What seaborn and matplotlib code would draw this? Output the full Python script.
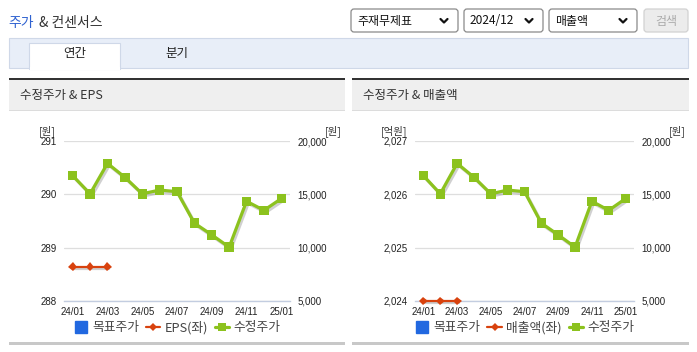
import numpy as np
import pandas as pd
import matplotlib
matplotlib.use("Agg")
import matplotlib.pyplot as plt
import matplotlib.patheffects as pe
from matplotlib.patches import Rectangle, FancyBboxPatch
from matplotlib.lines import Line2D
from matplotlib import font_manager as fm
import seaborn as sns

# data
months = ["24/01", "24/02", "24/03", "24/04", "24/05", "24/06", "24/07",
          "24/08", "24/09", "24/10", "24/11", "24/12", "25/01"]
price = [16750, 15050, 17900, 16600, 15050, 15400, 15250,
         12300, 11200, 10050, 14350, 13500, 14600]
eps = [288.64, 288.64, 288.64]
sales = [2024, 2024, 2024]

eps_ticks = [288, 289, 290, 291]
sales_ticks = [2024, 2025, 2026, 2027]
price_ticks = [5000, 10000, 15000, 20000]

W, H = 697, 352
GREEN = "#8cc21e"
RED = "#d8420e"
BLUE = "#2168e0"
AXC = "#c3cde0"

sns.set_style("white")
plt.rcParams["font.family"] = ["Noto Sans CJK KR", "DejaVu Sans"]
names = {f.name for f in fm.fontManager.ttflist}
num_font = "Liberation Sans Narrow" if "Liberation Sans Narrow" in names else "Liberation Sans"

fig = plt.figure(figsize=(W / 100, H / 100), dpi=100)
bg = fig.add_axes([0, 0, 1, 1])
bg.set_xlim(0, W)
bg.set_ylim(H, 0)
bg.axis("off")


def rect(x0, y0, x1, y1, fc, ec="none", lw=1.0, z=1):
    bg.add_patch(Rectangle((x0, y0), x1 - x0, y1 - y0, facecolor=fc, edgecolor=ec, lw=lw, zorder=z))


# page header
bg.text(8, 23, "주가", color="#2f62d0", fontsize=10, va="center")
bg.text(39, 23, "& 컨센서스", color="#333333", fontsize=10, va="center")

selects = [(351, 458, "주재무제표"), (464, 543, "2024/12"), (549, 637, "매출액")]
for x0, x1, label in selects:
    bg.add_patch(FancyBboxPatch((x0, 9), x1 - x0, 23, boxstyle="round,pad=0,rounding_size=3",
                                facecolor="white", edgecolor="#8a8a8a", lw=0.9))
    bg.text(x0 + 6, 21, label, fontsize=8.6, va="center", color="#111111")
    cx = x1 - 14
    bg.plot([cx - 3.5, cx, cx + 3.5], [19, 22.5, 19], color="#111111", lw=1.6)
bg.add_patch(FancyBboxPatch((644, 9), 44, 23, boxstyle="round,pad=0,rounding_size=3",
                            facecolor="#ececec", edgecolor="#d2d2d2", lw=0.9))
bg.text(666, 21, "검색", fontsize=8.6, va="center", ha="center", color="#aaaaaa")

# tab bar
rect(9, 38, 688, 68, "#e8eef8", "#cfd8e8", 0.8)
rect(29, 43, 120, 69, "white", "#cfd8e8", 0.8, z=2)
rect(29.5, 67, 119.5, 70, "white", z=3)
bg.text(75, 54, "연간", fontsize=9, ha="center", va="center", color="#222222", zorder=4)
bg.text(177, 54, "분기", fontsize=9, ha="center", va="center", color="#222222")

panels = [
    dict(x0=9, x1=345, title="수정주가 & EPS", tx=20, ax=(64, 290),
         left=eps, lticks=eps_ticks, lfmt="{:d}", name="EPS(좌)", lunit="[원]"),
    dict(x0=352, x1=689, title="수정주가 & 매출액", tx=363, ax=(415, 634),
         left=sales, lticks=sales_ticks, lfmt="{:,}", name="매출액(좌)", lunit="[억원]"),
]

for p in panels:
    rect(p["x0"], 78, p["x1"], 80, "#333333")
    rect(p["x0"], 80, p["x1"], 110, "#efefef")
    rect(p["x0"], 110, p["x1"], 111, "#dcdcdc")
    rect(p["x0"], 342, p["x1"], 344.5, "#c8c8c8")
    bg.text(p["tx"], 96, p["title"], fontsize=9, va="center", color="#333333")

    ax_x0, ax_x1 = p["ax"]
    ax = fig.add_axes([ax_x0 / W, 1 - 301 / H, (ax_x1 - ax_x0) / W, 160 / H])
    ax.patch.set_alpha(0)
    ax2 = ax.twinx()

    left_df = pd.DataFrame({"x": range(len(p["left"])), "v": p["left"]})
    price_df = pd.DataFrame({"x": range(len(months)), "v": price})

    sns.lineplot(data=price_df, x="x", y="v", ax=ax2, color=GREEN, lw=2.3,
                 marker="s", markersize=6.8, markeredgewidth=0, clip_on=False,
                 path_effects=[pe.SimpleLineShadow(offset=(1.2, -1.5), shadow_color="#666666", alpha=0.3),
                               pe.Normal()])
    sns.lineplot(data=left_df, x="x", y="v", ax=ax, color=RED, lw=1.6,
                 marker="D", markersize=4.5, markeredgewidth=0, clip_on=False, zorder=5,
                 path_effects=[pe.SimpleLineShadow(offset=(1, -1.2), shadow_color="#666666", alpha=0.3),
                               pe.Normal()])

    for a in (ax, ax2):
        a.set_xlim(-0.5, 12.5)
        a.set_xlabel("")
        a.set_ylabel("")
        for s in a.spines.values():
            s.set_visible(False)
    ax.spines["bottom"].set_visible(True)
    ax.spines["bottom"].set_color(AXC)
    ax.spines["bottom"].set_linewidth(1.0)

    ax.set_ylim(p["lticks"][0], p["lticks"][-1])
    ax.set_yticks(p["lticks"])
    ax.set_yticklabels([p["lfmt"].format(t) for t in p["lticks"]], fontfamily=num_font, fontsize=7)
    ax.grid(axis="y", color="#dedede", lw=0.9)
    ax.set_axisbelow(True)
    ax2.set_ylim(price_ticks[0], price_ticks[-1])
    ax2.set_yticks(price_ticks)
    ax2.set_yticklabels([f"{t:,}" for t in price_ticks], fontfamily=num_font, fontsize=7)
    ax.tick_params(axis="y", length=0, pad=5, colors="#222222")
    ax2.tick_params(axis="y", length=0, pad=5.5, colors="#222222")

    ax.set_xticks(range(0, 13, 2))
    ax.set_xticklabels(months[::2], fontfamily=num_font, fontsize=7, color="#222222")
    ax.set_xticks([-0.5, 0.5, 2.5, 4.5, 6.5, 8.5, 10.5, 12.5], minor=True)
    ax.tick_params(axis="x", which="major", length=0, pad=4)
    ax.tick_params(axis="x", which="minor", length=3.6, color=AXC, width=1.0)
    ax2.tick_params(axis="x", which="both", length=0, labelbottom=False)

    bg.text(ax_x0 - 8, 131, p["lunit"], fontsize=7.5, ha="right", va="center", color="#333333")
    bg.text(ax_x1 + 35, 131, "[원]", fontsize=7.5, ha="left", va="center", color="#333333")

    handles = [
        Line2D([], [], ls="none", marker="s", markersize=8, color=BLUE),
        Line2D([], [], color=RED, lw=1.6, marker="D", markersize=4.5, markeredgewidth=0),
        Line2D([], [], color=GREEN, lw=2.3, marker="s", markersize=6, markeredgewidth=0),
    ]
    ax.legend(handles, ["목표주가", p["name"], "수정주가"], loc="center",
              bbox_to_anchor=(0.5, -0.165), ncol=3, frameon=False, fontsize=9.2,
              handlelength=1.1, handletextpad=0.35, columnspacing=0.55,
              labelcolor="#444444")

fig.savefig("out.png", dpi=100)
